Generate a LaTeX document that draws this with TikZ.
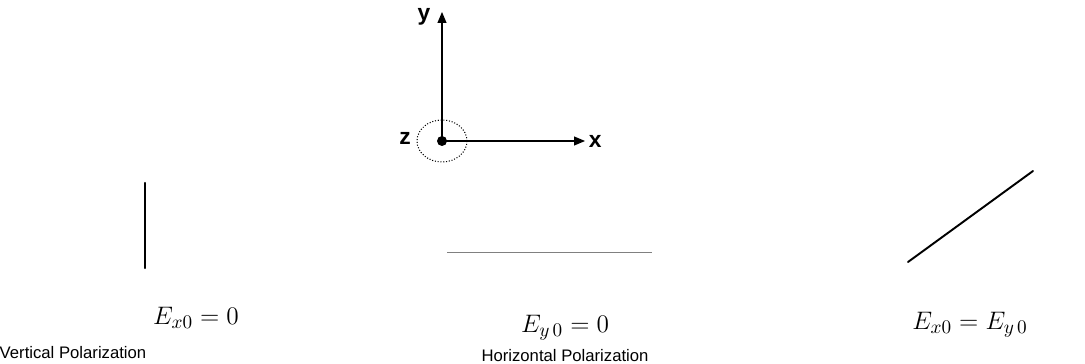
\documentclass[tikz,border=0pt]{standalone}
\usepackage{amsmath,amssymb}
\usepackage{fontspec}
\setsansfont{Liberation Sans}
\usetikzlibrary{arrows.meta, positioning, calc}

\begin{document}
\begin{tikzpicture}[
        x=0.02cm, y=-0.02cm,
        axis/.style={semithick, -{Triangle[length=2.2mm, width=1.8mm]}},
        axislabel/.style={font=\sffamily\bfseries\fontsize{13}{15}\selectfont, inner sep=1pt},
        field/.style={line width=1.4pt, line cap=round},
        caption/.style={font=\sffamily\fontsize{9.5}{11}\selectfont, inner sep=1pt},
        eqn/.style={font=\fontsize{15}{18}\selectfont, inner sep=1pt}
    ]

    % Frame
    \useasboundingbox (0,0) rectangle (1085,364);

    % Axes
    \coordinate (origin) at (442,141);
    \coordinate (ytip) at (442,12);
    \coordinate (xtip) at (585,141);
    \draw[axis] (origin) -- (ytip);
    \draw[axis] (origin) -- (xtip);
    \draw[densely dotted, semithick] (origin) ellipse [x radius=0.5cm, y radius=0.42cm];
    \fill (origin) circle [radius=0.1cm];
    \node[axislabel] (ylab) at (424,17) {y};
    \node[axislabel, right=1pt of xtip] (xlab) {x};
    \node[axislabel] (zlab) at (405,138) {z};

    % Vertical Polarization
    \coordinate (vtop) at (145,183);
    \coordinate (vbot) at (145,268);
    \draw[field] (vtop) -- (vbot);
    \node[eqn] (eqv) at (196,318) {$E_{x0} = 0$};
    \node[caption] (capv) at (73,353) {Vertical Polarization};

    % Horizontal Polarization
    \coordinate (hleft) at (447,252);
    \coordinate (hright) at (652,252);
    \draw[gray, thin] (hleft) -- (hright);
    \node[eqn] (eqh) at (565,328) {$E_{y\,0} = 0$};
    \node[caption] (caph) at (565,356) {Horizontal Polarization};

    % Linear at 45 degrees
    \coordinate (dlow) at (908,262);
    \coordinate (dhigh) at (1033,171);
    \draw[field, line width=1.1pt] (dlow) -- (dhigh);
    \node[eqn] (eqd) at (970,325) {$E_{x0} = E_{y\,0}$};

\end{tikzpicture}
\end{document}
